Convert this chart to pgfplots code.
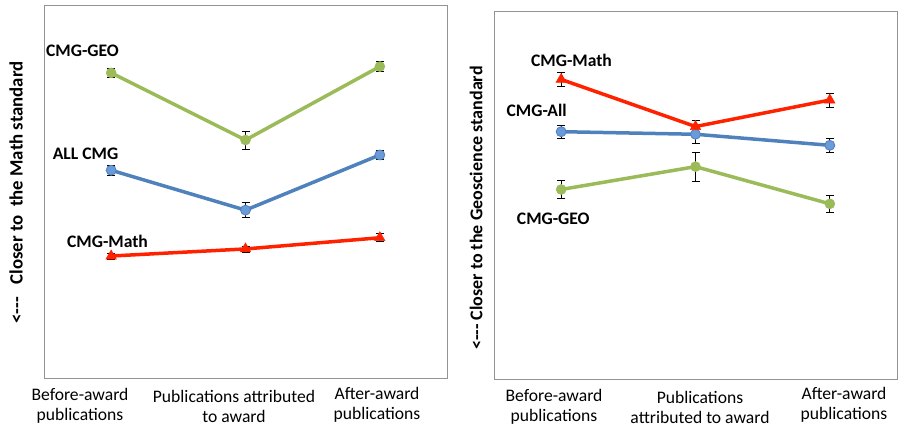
\documentclass[border=0pt]{standalone}
\usepackage{fontspec}
\setmainfont{Carlito}
\usepackage{pgfplots}
\pgfplotsset{compat=1.18}
\definecolor{cgreen}{HTML}{9BBB59}
\definecolor{cblue}{HTML}{4F81BD}
\definecolor{cbluefill}{HTML}{6A9BD8}
\definecolor{cred}{HTML}{FF2200}

\pgfplotstableread{
x y e
0 8.18 0.12
1 6.38 0.24
2 8.35 0.13
}\LGeo
\pgfplotstableread{
x y e
0 5.57 0.13
1 4.50 0.20
2 5.98 0.12
}\LAll
\pgfplotstableread{
x y e
0 3.27 0.08
1 3.46 0.08
2 3.76 0.11
}\LMath
\pgfplotstableread{
x y e
0 8.14 0.19
1 6.86 0.16
2 7.58 0.19
}\RMath
\pgfplotstableread{
x y e
0 6.72 0.18
1 6.65 0.24
2 6.35 0.18
}\RAll
\pgfplotstableread{
x y e
0 5.15 0.24
1 5.77 0.39
2 4.76 0.23
}\RGeo

\begin{document}
\begin{tikzpicture}
\useasboundingbox (0pt,0pt) rectangle (906pt,427pt);
\pgfplotsset{
 panel/.style={scale only axis, width=403pt, xmin=-0.5, xmax=2.5, ymin=0, ymax=10,
   xtick=\empty, ytick=\empty, axis line style={gray!85, line width=0.8pt}, clip=false, anchor=south west},
 err/.style={error bars/.cd, y dir=both, y explicit,
   error mark options={rotate=90, mark size=4pt, black, line width=0.8pt},
   error bar style={black, line width=0.8pt}},
 gline/.style={color=cgreen, line width=3.5pt, mark=*, mark size=5pt, mark options={solid, fill=cgreen, draw=cgreen, line width=0.5pt}},
 bline/.style={color=cblue, line width=3.5pt, mark=*, mark size=5pt, mark options={solid, fill=cbluefill, draw=cblue, line width=0.8pt}},
 rline/.style={color=cred, line width=3.5pt, mark=triangle*, mark size=6pt, mark options={solid, fill=cred, draw=cred, line width=0.5pt}},
}
\begin{axis}[panel, at={(44pt,49pt)}, height=373pt]
\addplot[gline, err] table[x=x, y=y, y error=e] {\LGeo};
\addplot[bline, err] table[x=x, y=y, y error=e] {\LAll};
\addplot[rline, err] table[x=x, y=y, y error=e] {\LMath};
\end{axis}
\begin{axis}[panel, at={(494pt,48pt)}, height=368pt]
\addplot[gline, err] table[x=x, y=y, y error=e] {\RGeo};
\addplot[bline, err] table[x=x, y=y, y error=e] {\RAll};
\addplot[rline, err] table[x=x, y=y, y error=e] {\RMath};
\end{axis}

% series labels
\begin{scope}[every node/.style={inner sep=0pt, font=\bfseries\fontsize{17.6}{20}\selectfont}]
\node at (82.5pt,376.5pt) {CMG-GEO};
\node at (85.5pt,273.5pt) {ALL CMG};
\node at (107.5pt,186pt) {CMG-Math};
\node at (571.5pt,366.2pt) {CMG-Math};
\node at (536.7pt,317pt) {CMG-All};
\node at (553.3pt,208.5pt) {CMG-GEO};
\end{scope}

% category labels
\begin{scope}[every node/.style={inner sep=0pt, align=center, font=\fontsize{17.6}{20}\selectfont}]
\node at (80pt,21pt) {Before-award\\publications};
\node at (234pt,21pt) {Publications attributed\\to award};
\node at (377pt,22.5pt) {After-award\\publications};
\node at (554pt,20pt) {Before-award\\publications};
\node at (700pt,20pt) {Publications\\attributed to award};
\node at (844pt,22.5pt) {After-award\\publications};
\end{scope}

% axis titles
\node[rotate=90, inner sep=0pt, font=\bfseries\fontsize{18.8}{22}\selectfont] at (16pt,234.5pt) {<-{}-{}-\ \ \ Closer to\ \ the Math standard};
\node[rotate=90, inner sep=0pt, font=\bfseries\fontsize{18}{22}\selectfont] at (476pt,219pt) {<-{}-{}- Closer to the Geoscience standard};
\end{tikzpicture}
\end{document}
